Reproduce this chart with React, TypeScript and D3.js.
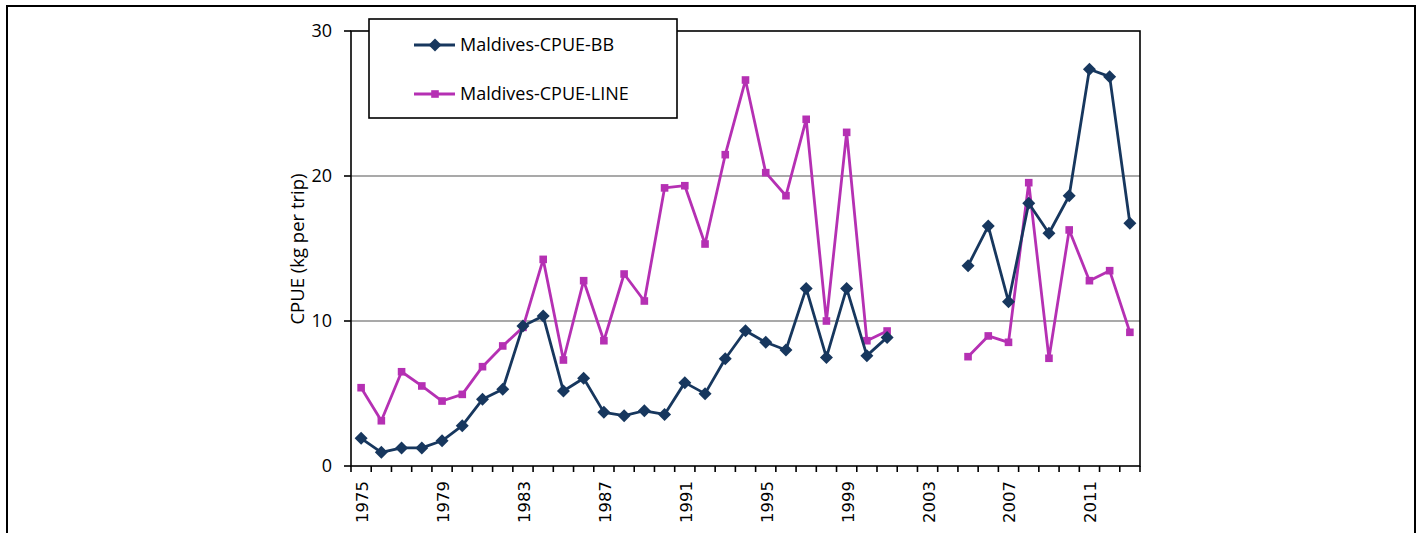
import React from "react";
import * as d3 from "d3";

const years = [
  1975, 1976, 1977, 1978, 1979, 1980, 1981, 1982, 1983, 1984,
  1985, 1986, 1987, 1988, 1989, 1990, 1991, 1992, 1993, 1994,
  1995, 1996, 1997, 1998, 1999, 2000, 2001, 2002, 2003, 2004,
  2005, 2006, 2007, 2008, 2009, 2010, 2011, 2012, 2013,
];

const cpueBB: (number | null)[] = [
  1.91, 0.94, 1.25, 1.25, 1.74, 2.78, 4.6, 5.29, 9.66, 10.34,
  5.17, 6.05, 3.7, 3.47, 3.81, 3.56, 5.75, 4.99, 7.4, 9.33,
  8.53, 8.0, 12.25, 7.49, 12.25, 7.61, 8.87, null, null, null,
  13.81, 16.55, 11.33, 18.12, 16.05, 18.64, 27.36, 26.85, 16.74,
];

const cpueLINE: (number | null)[] = [
  5.4, 3.12, 6.5, 5.52, 4.48, 4.94, 6.85, 8.28, 9.56, 14.25,
  7.31, 12.78, 8.64, 13.24, 11.38, 19.18, 19.33, 15.31, 21.47, 26.62,
  20.23, 18.64, 23.91, 10.0, 23.01, 8.64, 9.31, null, null, null,
  7.54, 8.97, 8.53, 19.54, 7.43, 16.28, 12.78, 13.47, 9.22,
];

const xTickLabels = [1975, 1979, 1983, 1987, 1991, 1995, 1999, 2003, 2007, 2011];
const yTicks = [0, 10, 20, 30];
const gridValues = [10, 20];
const seriesNames = ["Maldives-CPUE-BB", "Maldives-CPUE-LINE"];

const BB_COLOR = "#17375E";
const LINE_COLOR = "#B530B3";

export default function App() {
  const left = 351, right = 1140, top = 31, bottom = 466;
  const x = d3.scaleBand<number>().domain(years).range([left, right]).padding(0);
  const cx = (yr: number) => (x(yr) as number) + x.bandwidth() / 2;
  const y = d3.scaleLinear().domain([0, 30]).range([bottom, top]);

  const lineGen = d3
    .line<number | null>()
    .defined((d) => d !== null)
    .x((_, i) => cx(years[i]))
    .y((d) => y(d as number));

  const diamond = (px: number, py: number, r: number) =>
    `M${px},${py - r}L${px + r},${py}L${px},${py + r}L${px - r},${py}Z`;

  const boundaries = [...years.map((yr) => x(yr) as number), right];

  return (
    <svg
      width={1421}
      height={533}
      style={{ position: "absolute", left: 0, top: 0, display: "block", background: "#fff" }}
    >
      <rect x={7} y={6} width={1408} height={600} fill="#fff" stroke="#000" strokeWidth={2} />

      {gridValues.map((g) => (
        <line key={g} x1={left} x2={right} y1={y(g)} y2={y(g)} stroke="#8c8c8c" strokeWidth={1.6} />
      ))}

      <rect x={left} y={top} width={right - left} height={bottom - top} fill="none" stroke="#000" strokeWidth={1.6} />

      {yTicks.map((t) => (
        <g key={t}>
          <line x1={left - 7} x2={left} y1={y(t)} y2={y(t)} stroke="#000" strokeWidth={1.6} />
          <text
            x={332}
            y={y(t)}
            dy="0.36em"
            textAnchor="end"
            fontFamily="'Open Sans', sans-serif"
            fontSize={18}
            fill="#000"
          >
            {t}
          </text>
        </g>
      ))}

      {boundaries.map((bx, i) => (
        <line key={i} x1={bx} x2={bx} y1={bottom} y2={bottom + 6} stroke="#000" strokeWidth={1.6} />
      ))}
      {xTickLabels.map((yr) => (
        <text
          key={yr}
          transform={`translate(${cx(yr) + 1},481) rotate(-90)`}
          textAnchor="end"
          dy="0.36em"
          fontFamily="'DejaVu Sans', sans-serif"
          fontSize={16.5}
          fill="#000"
        >
          {yr}
        </text>
      ))}

      <text
        transform="translate(298,249) rotate(-90)"
        textAnchor="middle"
        dy="0.35em"
        fontFamily="'Open Sans', sans-serif"
        fontSize={18.5}
        fill="#000"
      >
        CPUE (kg per trip)
      </text>

      <path d={lineGen(cpueLINE) || ""} fill="none" stroke={LINE_COLOR} strokeWidth={2.8} strokeLinejoin="round" />
      {cpueLINE.map((v, i) =>
        v === null ? null : (
          <rect key={i} x={cx(years[i]) - 3.8} y={y(v) - 3.8} width={7.6} height={7.6} fill={LINE_COLOR} />
        )
      )}
      <path d={lineGen(cpueBB) || ""} fill="none" stroke={BB_COLOR} strokeWidth={2.8} strokeLinejoin="round" />
      {cpueBB.map((v, i) =>
        v === null ? null : <path key={i} d={diamond(cx(years[i]), y(v), 6.5)} fill={BB_COLOR} />
      )}

      <rect x={369} y={19} width={308} height={99} fill="#fff" stroke="#000" strokeWidth={1.6} />
      {seriesNames.map((name, i) => {
        const ly = i === 0 ? 45 : 94;
        const color = i === 0 ? BB_COLOR : LINE_COLOR;
        return (
          <g key={name}>
            <line x1={414} x2={455} y1={ly} y2={ly} stroke={color} strokeWidth={2.8} />
            {i === 0 ? (
              <path d={diamond(435, ly, 6.5)} fill={color} />
            ) : (
              <rect x={435 - 3.8} y={ly - 3.8} width={7.6} height={7.6} fill={color} />
            )}
            <text
              x={460}
              y={ly}
              dy="0.36em"
              fontFamily="'Open Sans', sans-serif"
              fontSize={18}
              fill="#000"
            >
              {name}
            </text>
          </g>
        );
      })}
    </svg>
  );
}
